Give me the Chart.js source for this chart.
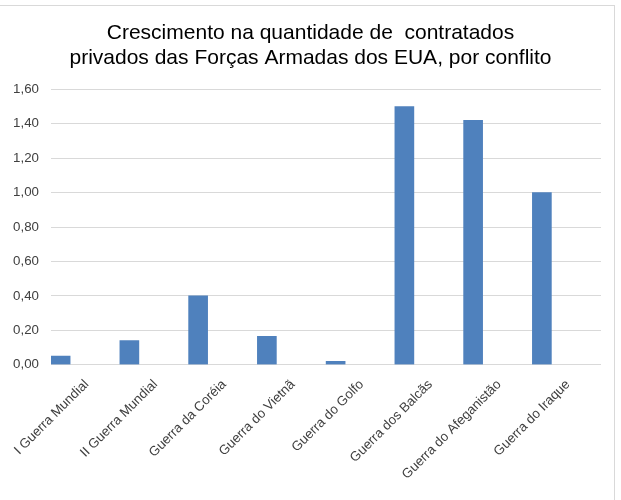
<!DOCTYPE html>
<html>
<head>
<meta charset="utf-8">
<script src="https://cdn.jsdelivr.net/npm/chart.js@4/dist/chart.umd.min.js"></script>
<style>
  html, body { margin: 0; padding: 0; background: #fff; overflow: hidden; }
  #frame { position: absolute; left: -10px; top: 5px; width: 623px; height: 600px; border: 1px solid #d9d9d9; }
  #wrap { position: absolute; left: 0; top: 0; width: 621px; height: 500px; }
</style>
</head>
<body>
<div id="frame"></div>
<div id="wrap"><canvas id="c" width="621" height="500"></canvas></div>
<script>
const titleLines = ['Crescimento na quantidade de  contratados', 'privados das Forças Armadas dos EUA, por conflito'];
const categories = ['I Guerra Mundial', 'II Guerra Mundial', 'Guerra da Coréia', 'Guerra do Vietnã', 'Guerra do Golfo', 'Guerra dos Balcãs', 'Guerra do Afeganistão', 'Guerra do Iraque'];
const values = [0.05, 0.14, 0.40, 0.165, 0.02, 1.50, 1.42, 1.00];
const yTicks = [0, 0.2, 0.4, 0.6, 0.8, 1.0, 1.2, 1.4, 1.6];

const FONT = "'Liberation Sans', Arial, sans-serif";

new Chart(document.getElementById('c'), {
  type: 'bar',
  data: {
    datasets: [{
      data: values.map((v, i) => ({ x: i, y: v })),
      backgroundColor: '#4f81bd',
      borderWidth: 0,
      barThickness: 19
    }]
  },
  options: {
    responsive: false,
    animation: false,
    devicePixelRatio: 1,
    layout: { padding: { left: 0, right: 0, top: 0, bottom: 0 } },
    plugins: {
      legend: { display: false },
      tooltip: { enabled: false },
      title: {
        display: true,
        text: titleLines,
        color: '#000',
        font: { family: FONT, size: 21, weight: 'normal', lineHeight: '25px' },
        padding: { top: 20.5, bottom: 18.8 }
      }
    },
    scales: {
      x: {
        type: 'linear',
        offset: false,
        bounds: 'data',
        min: -0.14,
        max: 7.86,
        afterBuildTicks: s => { s.ticks = categories.map((c, i) => ({ value: i })); },
        afterFit: s => { s.height = 135.3; s.paddingLeft = 0; s.paddingRight = 0; },
        grid: { display: false },
        border: { display: false },
        ticks: {
          autoSkip: false,
          minRotation: 45,
          maxRotation: 45,
          labelOffset: 26,
          padding: 4,
          color: '#404040',
          font: { family: FONT, size: 13.3 },
          callback: v => categories[v]
        }
      },
      y: {
        min: 0,
        max: 1.6,
        afterBuildTicks: s => { s.ticks = yTicks.map(v => ({ value: v })); },
        afterFit: s => { s.width = 51; },
        grid: { color: '#d9d9d9', lineWidth: 1, drawTicks: false },
        border: { display: false },
        ticks: {
          padding: 12,
          color: '#404040',
          font: { family: FONT, size: 13.3 },
          callback: v => v.toFixed(2).replace('.', ',')
        }
      },
      yRight: {
        position: 'right',
        display: true,
        afterFit: s => { s.width = 20; },
        grid: { display: false, drawTicks: false },
        border: { display: false },
        ticks: { display: false }
      }
    }
  }
});
</script>
</body>
</html>
